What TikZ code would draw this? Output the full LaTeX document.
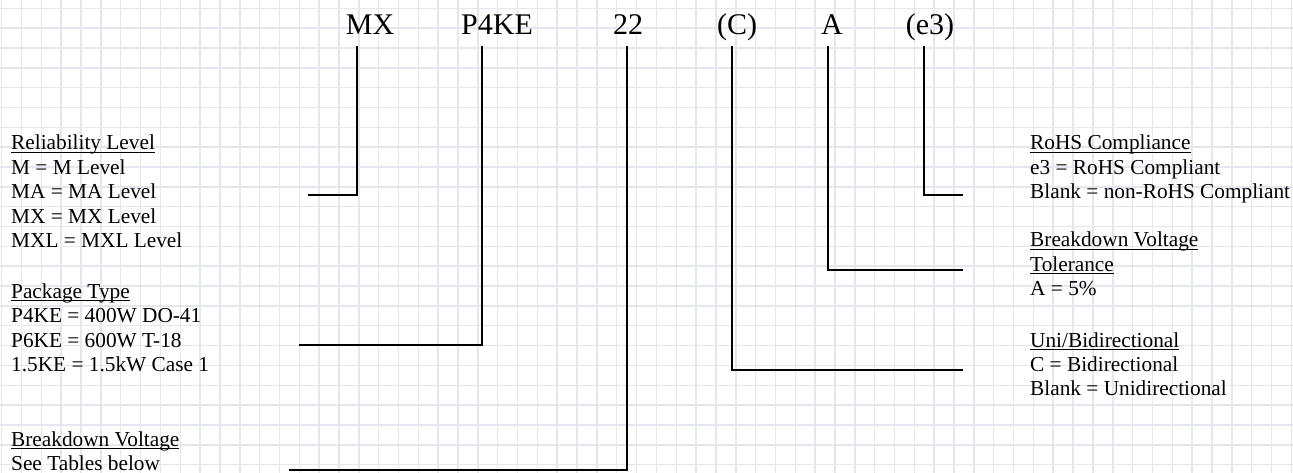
\documentclass[tikz,border=0pt]{standalone}
\usepackage{fontspec}
\setmainfont{Liberation Serif}
\usetikzlibrary{positioning}

\definecolor{gridline}{RGB}{228,231,238}
% underline at a fixed depth (through the descenders)
\newcommand{\ulab}[1]{\setbox0\hbox{#1}\rlap{\rule[-2.6pt]{\wd0}{0.9pt}}\box0}
\newcommand{\codefont}{\fontsize{30}{30}\selectfont}
\newcommand{\notefont}{\fontsize{21.3}{24.4}\selectfont}

\tikzset{
  code/.style={anchor=base, inner sep=0pt, font=\codefont},
  note/.style={anchor=base west, inner sep=0pt, font=\notefont},
  conn/.style={line width=2pt, black},
}

\begin{document}
\begin{tikzpicture}[x=1pt, y=-1pt, line join=miter, line cap=butt]
  \useasboundingbox (0,0) rectangle (1293,473);
  \fill[white] (0,0) rectangle (1293,473);

  % ====== graph paper ======
  \foreach \i in {0,...,65} \draw[gridline, line width=1.5pt] ({1.7+19.84*\i},0) -- ++(0,473);
  \foreach \j in {0,...,23} \draw[gridline, line width=1.5pt] (0,{8.3+19.84*\j}) -- ++(1293,0);

  % ====== part number ======
  \node[code] (mx)   at (370,35) {MX};
  \node[code] (pkg)  at (497,35) {P4KE};
  \node[code] (volt) at (628,35) {22};
  \node[code] (dir)  at (737,35) {(C)};
  \node[code] (tol)  at (832,35) {A};
  \node[code] (rohs) at (930,35) {(e3)};

  % ====== left notes ======
  \node[note] (mxnote) at (11,150) {\begin{tabular}[t]{@{}l@{}}
      \ulab{Reliability Level}\\ M = M Level\\ MA = MA Level\\ MX = MX Level\\ MXL = MXL Level
    \end{tabular}};
  \node[note] (pkgnote) at (11,298.5) {\begin{tabular}[t]{@{}l@{}}
      \ulab{Package Type}\\ P4KE = 400W DO-41\\ P6KE = 600W T-18\\ 1.5KE = 1.5kW Case 1
    \end{tabular}};
  \node[note] (voltnote) at (11,446.5) {\begin{tabular}[t]{@{}l@{}}
      \ulab{Breakdown Voltage}\\ See Tables below
    \end{tabular}};

  % ====== right notes ======
  \node[note] (rohsnote) at (1030,150) {\begin{tabular}[t]{@{}l@{}}
      \ulab{RoHS Compliance}\\ e3 = RoHS Compliant\\ Blank = non-RoHS Compliant
    \end{tabular}};
  \node[note] (tolnote) at (1030,247) {\begin{tabular}[t]{@{}l@{}}
      \ulab{Breakdown Voltage}\\ \ulab{Tolerance}\\ A = 5\%
    \end{tabular}};
  \node[note] (dirnote) at (1030,347) {\begin{tabular}[t]{@{}l@{}}
      \ulab{Uni/Bidirectional}\\ C = Bidirectional\\ Blank = Unidirectional
    \end{tabular}};

  % ====== leader lines ======
  \coordinate (mxt)   at (357,46);  \coordinate (mxe)   at (308,195);
  \coordinate (pkgt)  at (482,46);  \coordinate (pkge)  at (299,344.5);
  \coordinate (voltt) at (627,46);  \coordinate (volte) at (289,469.5);
  \coordinate (dirt)  at (732,46);  \coordinate (dire)  at (963,369.5);
  \coordinate (tolt)  at (828,46);  \coordinate (tole)  at (963,270);
  \coordinate (rohst) at (924,46);  \coordinate (rohse) at (963,195.5);

  \draw[conn] (mxt) |- (mxe);
  \draw[conn] (pkgt) |- (pkge);
  \draw[conn] (voltt) |- (volte);
  \draw[conn] (dirt) |- (dire);
  \draw[conn] (tolt) |- (tole);
  \draw[conn] (rohst) |- (rohse);
\end{tikzpicture}
\end{document}
